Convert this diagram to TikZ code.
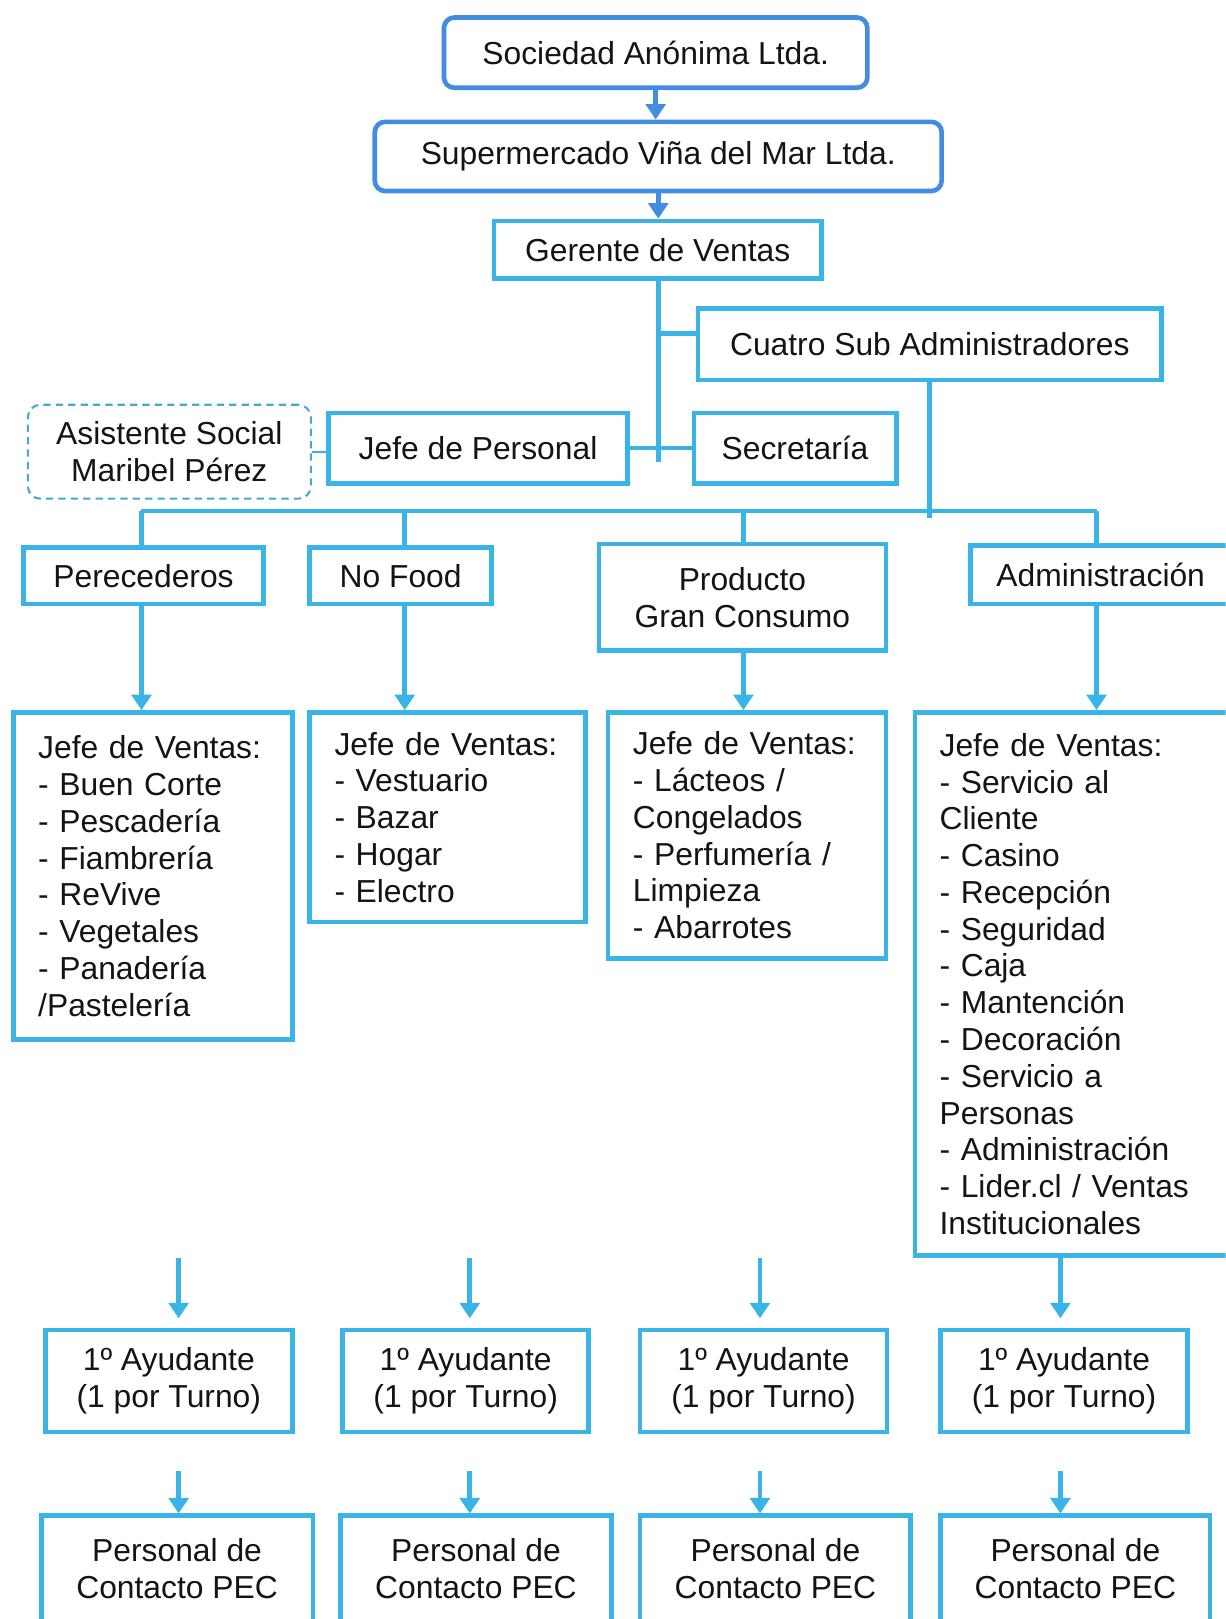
\documentclass[tikz,border=0pt]{standalone}
\usepackage{fontspec}
\setmainfont{Liberation Sans}
\usetikzlibrary{arrows.meta}
\definecolor{topblue}{RGB}{66,140,226}
\definecolor{cyanb}{RGB}{58,180,230}
\definecolor{dashc}{RGB}{72,168,205}
\definecolor{ink}{RGB}{20,20,20}
\begin{document}
\begin{tikzpicture}[x=1pt,y=1pt,
  every node/.style={font=\fontsize{30.8}{35.6}\selectfont, text=ink, inner sep=0pt},
  topbox/.style={draw=topblue, line width=4.5pt, rounded corners=10pt, fill=white, align=center},
  box/.style={draw=cyanb, line width=4.5pt, fill=white, align=center},
  listbox/.style={box, align=left, inner xsep=24pt},
  dbox/.style={draw=dashc, line width=2pt, dashed, dash pattern=on 7pt off 5pt, rounded corners=12pt, fill=white, align=center},
  link/.style={draw=cyanb, line width=4.5pt},
  toplink/.style={draw=topblue, line width=4.5pt, -{Triangle[width=19pt,length=15pt]}},
  arr/.style={link, -{Triangle[width=19pt,length=15pt]}}
]
\useasboundingbox (0,0) rectangle (1187,-1568);
\clip (0,0) rectangle (1187,-1568);
\fill[white] (0,0) rectangle (1187,-1568);

% upper hierarchy
\node[topbox, minimum width=410pt, minimum height=68pt] (soc) at (635,-51) {Sociedad Anónima Ltda.};
\node[topbox, minimum width=549pt, minimum height=67pt] (sup) at (637.5,-151.5) {Supermercado Viña del Mar Ltda.};
\node[box, minimum width=317pt, minimum height=56pt] (ger) at (637,-242) {Gerente de Ventas};
\node[box, minimum width=449pt, minimum height=69pt] (cua) at (900.5,-333.5) {Cuatro Sub Administradores};
\node[dbox, minimum width=274pt, minimum height=91pt] (asi) at (164,-437.5) {Asistente Social\\Maribel Pérez};
\node[box, minimum width=290pt, minimum height=68pt] (jper) at (463,-434) {Jefe de Personal};
\node[box, minimum width=196pt, minimum height=68pt] (sec) at (770,-434) {Secretaría};

% areas
\node[box, minimum width=232pt, minimum height=55pt] (per) at (139,-557.5) {Perecederos};
\node[box, minimum width=176pt, minimum height=55pt] (nof) at (388,-557.5) {No Food};
\node[box, minimum width=278pt, minimum height=103pt] (pgc) at (719,-578.5) {Producto\\Gran Consumo};
\node[box, minimum width=252pt, minimum height=57pt] (adm) at (1066,-556.5) {Administración};

% sales managers
\node[listbox, text width=222pt, minimum height=317pt] (lper) at (148,-848.5)
  {Jefe de Ventas:\\- Buen Corte\\- Pescadería\\- Fiambrería\\- ReVive\\- Vegetales\\- Panadería\\/Pastelería};
\node[listbox, text width=219pt, minimum height=203pt] (lnof) at (433.5,-791.5)
  {Jefe de Ventas:\\- Vestuario\\- Bazar\\- Hogar\\- Electro};
\node[listbox, text width=221pt, minimum height=238pt] (lpgc) at (723.5,-809)
  {Jefe de Ventas:\\- Lácteos /\\Congelados\\- Perfumería /\\Limpieza\\- Abarrotes};
\node[listbox, text width=266pt, minimum height=526pt] (ladm) at (1043,-953)
  {Jefe de Ventas:\\- Servicio al\\Cliente\\- Casino\\- Recepción\\- Seguridad\\- Caja\\- Mantención\\- Decoración\\- Servicio a\\Personas\\- Administración\\- Lider.cl / Ventas\\Institucionales};

% assistants
\node[box, minimum width=239pt, minimum height=99pt] (ay1) at (163.5,-1337.5) {1º Ayudante\\(1 por Turno)};
\node[box, minimum width=238pt, minimum height=99pt] (ay2) at (451,-1337.5) {1º Ayudante\\(1 por Turno)};
\node[box, minimum width=239pt, minimum height=99pt] (ay3) at (739.5,-1337.5) {1º Ayudante\\(1 por Turno)};
\node[box, minimum width=239pt, minimum height=99pt] (ay4) at (1030.5,-1337.5) {1º Ayudante\\(1 por Turno)};

% contact staff
\node[box, minimum width=263pt, minimum height=102pt] (pec1) at (171.5,-1519) {Personal de\\Contacto PEC};
\node[box, minimum width=262pt, minimum height=102pt] (pec2) at (461,-1519) {Personal de\\Contacto PEC};
\node[box, minimum width=262pt, minimum height=102pt] (pec3) at (751,-1519) {Personal de\\Contacto PEC};
\node[box, minimum width=261pt, minimum height=102pt] (pec4) at (1041.5,-1519) {Personal de\\Contacto PEC};

% helper coordinates
\coordinate (trunk) at (638,-447);
\coordinate (cuaY) at (0,-323);
\coordinate (busend) at (900,-502);
\coordinate (b1) at (137,-495);
\coordinate (b2) at (392,-495);
\coordinate (b3) at (720,-495);
\coordinate (b4) at (1062,-495);
\coordinate (s1) at (173,-1218);
\coordinate (s2) at (455,-1218);
\coordinate (s3) at (736,-1218);
\coordinate (x4) at (1027,0);
\coordinate (t1) at (173,-1425);
\coordinate (t2) at (455,-1425);
\coordinate (t3) at (736,-1425);
\coordinate (t4) at (1027,-1425);

% top connectors
\draw[toplink] (soc.south) -- (soc.south |- sup.north);
\draw[toplink] (sup.south) -- (sup.south |- ger.north);

% management links
\draw[link] (ger.south -| trunk) -- (trunk);
\draw[link] (trunk |- cuaY) -- (cua.west |- cuaY);
\draw[link] (jper.east) -- (sec.west);
\draw[link, line width=2pt] (asi.east) -- (asi.east -| jper.west);

% bus to areas
\draw[link] (cua.south -| busend) -- (busend);
\draw[link] (b1) -- (b4);
\draw[link] (b1) -- (b1 |- per.north);
\draw[link] (b2) -- (b2 |- nof.north);
\draw[link] (b3) -- (b3 |- pgc.north);
\draw[link] (b4) -- (b4 |- adm.north);

% areas to sales managers
\draw[arr] (per.south -| b1) -- (lper.north -| b1);
\draw[arr] (nof.south -| b2) -- (lnof.north -| b2);
\draw[arr] (pgc.south -| b3) -- (lpgc.north -| b3);
\draw[arr] (adm.south -| b4) -- (ladm.north -| b4);

% down to assistants
\draw[arr, shorten >=9pt] (s1) -- (s1 |- ay1.north);
\draw[arr, shorten >=9pt] (s2) -- (s2 |- ay2.north);
\draw[arr, shorten >=9pt] (s3) -- (s3 |- ay3.north);
\draw[arr, shorten >=9pt] (ladm.south -| x4) -- (x4 |- ay4.north);

% down to contact staff
\draw[arr] (t1) -- (t1 |- pec1.north);
\draw[arr] (t2) -- (t2 |- pec2.north);
\draw[arr] (t3) -- (t3 |- pec3.north);
\draw[arr] (t4) -- (t4 |- pec4.north);
\end{tikzpicture}
\end{document}
